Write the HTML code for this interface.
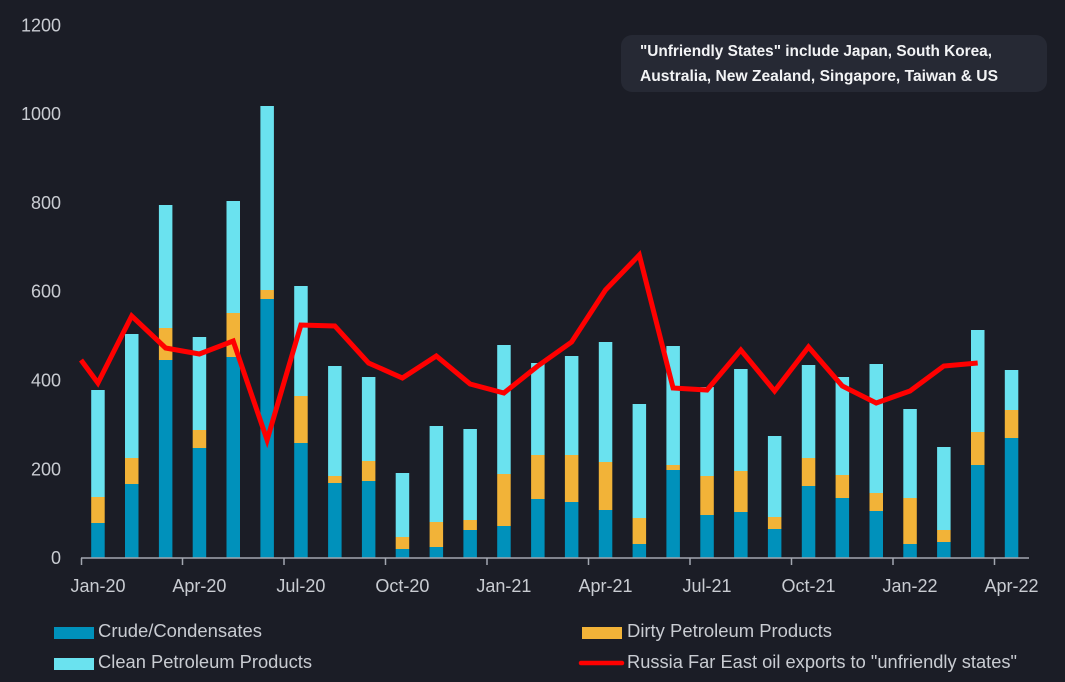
<!DOCTYPE html>
<html>
<head>
<meta charset="utf-8">
<style>
  html,body{margin:0;padding:0;background:#1b1d26;}
  svg{display:block;}
  text{font-family:"Liberation Sans",sans-serif;}
</style>
</head>
<body>
<svg width="1065" height="682" viewBox="0 0 1065 682" xmlns="http://www.w3.org/2000/svg">
  <rect x="0" y="0" width="1065" height="682" fill="#1b1d26"/>

  <!-- Y labels -->
  <g fill="#c9ccd2" font-size="18" text-anchor="end">
    <text x="61" y="564">0</text>
    <text x="61" y="475.5">200</text>
    <text x="61" y="386.5">400</text>
    <text x="61" y="297.5">600</text>
    <text x="61" y="209">800</text>
    <text x="61" y="120">1000</text>
    <text x="61" y="31.5">1200</text>
  </g>

  <!-- Bars -->
  <g id="bars"></g>
  <g>
    <!-- crude -->
    <g fill="#0091bb">
      <rect x="91.2" y="523" width="13.5" height="35"/>
      <rect x="125" y="484" width="13.5" height="74"/>
      <rect x="158.9" y="360" width="13.5" height="198"/>
      <rect x="192.7" y="448" width="13.5" height="110"/>
      <rect x="226.5" y="357" width="13.5" height="201"/>
      <rect x="260.4" y="299" width="13.5" height="259"/>
      <rect x="294.2" y="443" width="13.5" height="115"/>
      <rect x="328.1" y="483" width="13.5" height="75"/>
      <rect x="361.9" y="481" width="13.5" height="77"/>
      <rect x="395.7" y="549" width="13.5" height="9"/>
      <rect x="429.6" y="547" width="13.5" height="11"/>
      <rect x="463.4" y="530" width="13.5" height="28"/>
      <rect x="497.2" y="526" width="13.5" height="32"/>
      <rect x="531.1" y="499" width="13.5" height="59"/>
      <rect x="564.9" y="502" width="13.5" height="56"/>
      <rect x="598.8" y="510" width="13.5" height="48"/>
      <rect x="632.6" y="544" width="13.5" height="14"/>
      <rect x="666.4" y="470" width="13.5" height="88"/>
      <rect x="700.3" y="515" width="13.5" height="43"/>
      <rect x="734.1" y="512" width="13.5" height="46"/>
      <rect x="767.9" y="529" width="13.5" height="29"/>
      <rect x="801.8" y="486" width="13.5" height="72"/>
      <rect x="835.6" y="498" width="13.5" height="60"/>
      <rect x="869.5" y="511" width="13.5" height="47"/>
      <rect x="903.3" y="544" width="13.5" height="14"/>
      <rect x="937.1" y="542" width="13.5" height="16"/>
      <rect x="971" y="465" width="13.5" height="93"/>
      <rect x="1004.8" y="438" width="13.5" height="120"/>
    </g>
    <!-- dirty -->
    <g fill="#f2b338">
      <rect x="91.2" y="497" width="13.5" height="26"/>
      <rect x="125" y="458" width="13.5" height="26"/>
      <rect x="158.9" y="328" width="13.5" height="32"/>
      <rect x="192.7" y="430" width="13.5" height="18"/>
      <rect x="226.5" y="313" width="13.5" height="44"/>
      <rect x="260.4" y="290" width="13.5" height="9"/>
      <rect x="294.2" y="396" width="13.5" height="47"/>
      <rect x="328.1" y="476" width="13.5" height="7"/>
      <rect x="361.9" y="461" width="13.5" height="20"/>
      <rect x="395.7" y="537" width="13.5" height="12"/>
      <rect x="429.6" y="522" width="13.5" height="25"/>
      <rect x="463.4" y="520" width="13.5" height="10"/>
      <rect x="497.2" y="474" width="13.5" height="52"/>
      <rect x="531.1" y="455" width="13.5" height="44"/>
      <rect x="564.9" y="455" width="13.5" height="47"/>
      <rect x="598.8" y="462" width="13.5" height="48"/>
      <rect x="632.6" y="518" width="13.5" height="26"/>
      <rect x="666.4" y="465" width="13.5" height="5"/>
      <rect x="700.3" y="476" width="13.5" height="39"/>
      <rect x="734.1" y="471" width="13.5" height="41"/>
      <rect x="767.9" y="517" width="13.5" height="12"/>
      <rect x="801.8" y="458" width="13.5" height="28"/>
      <rect x="835.6" y="475" width="13.5" height="23"/>
      <rect x="869.5" y="493" width="13.5" height="18"/>
      <rect x="903.3" y="498" width="13.5" height="46"/>
      <rect x="937.1" y="530" width="13.5" height="12"/>
      <rect x="971" y="432" width="13.5" height="33"/>
      <rect x="1004.8" y="410" width="13.5" height="28"/>
    </g>
    <!-- clean -->
    <g fill="#6ae2ef">
      <rect x="91.2" y="390" width="13.5" height="107"/>
      <rect x="125" y="334" width="13.5" height="124"/>
      <rect x="158.9" y="205" width="13.5" height="123"/>
      <rect x="192.7" y="337" width="13.5" height="93"/>
      <rect x="226.5" y="201" width="13.5" height="112"/>
      <rect x="260.4" y="106" width="13.5" height="184"/>
      <rect x="294.2" y="286" width="13.5" height="110"/>
      <rect x="328.1" y="366" width="13.5" height="110"/>
      <rect x="361.9" y="377" width="13.5" height="84"/>
      <rect x="395.7" y="473" width="13.5" height="64"/>
      <rect x="429.6" y="426" width="13.5" height="96"/>
      <rect x="463.4" y="429" width="13.5" height="91"/>
      <rect x="497.2" y="345" width="13.5" height="129"/>
      <rect x="531.1" y="363" width="13.5" height="92"/>
      <rect x="564.9" y="356" width="13.5" height="99"/>
      <rect x="598.8" y="342" width="13.5" height="120"/>
      <rect x="632.6" y="404" width="13.5" height="114"/>
      <rect x="666.4" y="346" width="13.5" height="119"/>
      <rect x="700.3" y="387" width="13.5" height="89"/>
      <rect x="734.1" y="369" width="13.5" height="102"/>
      <rect x="767.9" y="436" width="13.5" height="81"/>
      <rect x="801.8" y="365" width="13.5" height="93"/>
      <rect x="835.6" y="377" width="13.5" height="98"/>
      <rect x="869.5" y="364" width="13.5" height="129"/>
      <rect x="903.3" y="409" width="13.5" height="89"/>
      <rect x="937.1" y="447" width="13.5" height="83"/>
      <rect x="971" y="330" width="13.5" height="102"/>
      <rect x="1004.8" y="370" width="13.5" height="40"/>
    </g>
  </g>

  <!-- Axis -->
  <g stroke="#a3a7b0" stroke-width="1.5" fill="none">
    <line x1="81" y1="558" x2="1029" y2="558"/>
    <line x1="81.5" y1="558" x2="81.5" y2="565"/>
    <line x1="182.5" y1="558" x2="182.5" y2="565"/>
    <line x1="284" y1="558" x2="284" y2="565"/>
    <line x1="385.5" y1="558" x2="385.5" y2="565"/>
    <line x1="487" y1="558" x2="487" y2="565"/>
    <line x1="588.5" y1="558" x2="588.5" y2="565"/>
    <line x1="690" y1="558" x2="690" y2="565"/>
    <line x1="791.5" y1="558" x2="791.5" y2="565"/>
    <line x1="893" y1="558" x2="893" y2="565"/>
    <line x1="994.5" y1="558" x2="994.5" y2="565"/>
  </g>

  <!-- X labels -->
  <g fill="#c9ccd2" font-size="18" text-anchor="middle">
    <text x="98" y="592">Jan-20</text>
    <text x="199.4" y="592">Apr-20</text>
    <text x="300.9" y="592">Jul-20</text>
    <text x="402.4" y="592">Oct-20</text>
    <text x="503.9" y="592">Jan-21</text>
    <text x="605.5" y="592">Apr-21</text>
    <text x="707" y="592">Jul-21</text>
    <text x="808.5" y="592">Oct-21</text>
    <text x="910" y="592">Jan-22</text>
    <text x="1011.5" y="592">Apr-22</text>
  </g>

  <!-- Red line -->
  <polyline fill="none" stroke="#ff0000" stroke-width="5" stroke-linejoin="miter" stroke-miterlimit="6"
    points="81,360 97.9,383 131.7,316 165.6,348 199.4,354 233.2,341 267.1,440 300.9,325 334.8,326 368.6,363 402.4,378 436.3,356 470.1,384 503.9,393 537.8,366 571.6,342 605.5,290 639.3,255 673.1,388 707,390 740.8,350 774.6,391 808.5,347 842.3,386 876.2,403 910,391 943.8,366 977.7,363"/>

  <!-- Annotation box -->
  <rect x="621" y="35" width="426" height="57" rx="11" ry="11" fill="#262934"/>
  <g fill="#f2f3f5" font-size="16" font-weight="bold">
    <text x="640" y="56" textLength="352" lengthAdjust="spacingAndGlyphs">"Unfriendly States" include Japan, South Korea,</text>
    <text x="640" y="81" textLength="358" lengthAdjust="spacingAndGlyphs">Australia, New Zealand, Singapore, Taiwan &amp; US</text>
  </g>

  <!-- Legend -->
  <rect x="54" y="627" width="40" height="12" fill="#0091bb"/>
  <rect x="54" y="658" width="40" height="12" fill="#6ae2ef"/>
  <rect x="582" y="627" width="40" height="12" fill="#f2b338"/>
  <line x1="581" y1="663" x2="622" y2="663" stroke="#ff0000" stroke-width="4.5" stroke-linecap="round"/>
  <g fill="#c9ccd2" font-size="18">
    <text x="98" y="637" textLength="164" lengthAdjust="spacingAndGlyphs">Crude/Condensates</text>
    <text x="98" y="668" textLength="214" lengthAdjust="spacingAndGlyphs">Clean Petroleum Products</text>
    <text x="627" y="637" textLength="205" lengthAdjust="spacingAndGlyphs">Dirty Petroleum Products</text>
    <text x="627" y="668" textLength="390" lengthAdjust="spacingAndGlyphs">Russia Far East oil exports to "unfriendly states"</text>
  </g>
</svg>
</body>
</html>
